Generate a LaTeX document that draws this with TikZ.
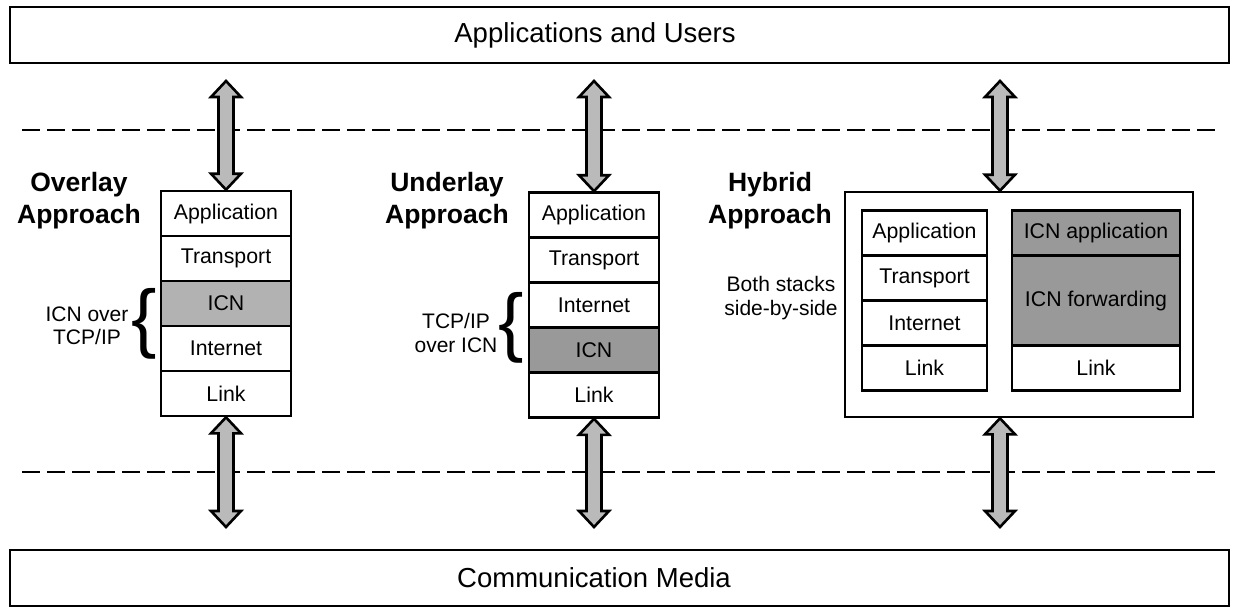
\documentclass[tikz,border=0pt]{standalone}
\usepackage{fontspec}
\setmainfont{Liberation Sans}
\usetikzlibrary{calc}
\tikzset{
  bigbox/.style={draw, line width=2pt, minimum width=1219pt, minimum height=56pt, inner sep=0pt},
  bigtext/.style={inner sep=0pt, font=\fontsize{27.5}{32}\selectfont},
  layer/.style={draw, line width=2.6pt, fill=white, minimum width=130pt, minimum height=45pt, inner sep=0pt, font=\fontsize{21.3}{24}\selectfont},
  lightgray/.style={fill=black!30},
  darkgray/.style={fill=black!40},
  title/.style={font=\fontsize{26.5}{32}\selectfont\bfseries, align=center, inner sep=0pt},
  note/.style={font=\fontsize{21}{23.5}\selectfont, align=center, inner sep=0pt},
  sep/.style={line width=1.8pt, dash pattern=on 18pt off 7pt},
  blockarrow/.style={draw, line width=2.6pt, fill=black!27, line join=miter},
  bracetext/.style={font=\fontsize{76}{76}\selectfont, inner sep=0pt}
}
\newcommand{\dblarrow}[2]{%
  \draw[blockarrow] let \p1=(#1), \p2=(#2) in
    (\x1,\y1) -- (\x1+15pt,\y1-16pt) -- (\x1+7.5pt,\y1-16pt) -- (\x1+7.5pt,\y2+16pt)
    -- (\x1+15pt,\y2+16pt) -- (\x1,\y2) -- (\x1-15pt,\y2+16pt) -- (\x1-7.5pt,\y2+16pt)
    -- (\x1-7.5pt,\y1-16pt) -- (\x1-15pt,\y1-16pt) -- cycle;}
\begin{document}
\begin{tikzpicture}[x=1pt,y=-1pt]
\useasboundingbox (0,0) rectangle (1246,615);

% top and bottom boxes
\node[bigbox] (apps) at (619.5,35.5) {};
\node[bigtext] (appstext) at (595,35.5) {Applications and Users};
\node[bigbox] (media) at (619.5,577.5) {};
\node[bigtext] (mediatext) at (594,577.5) {Communication Media};

% dashed separators
\coordinate (d1a) at (22,130);
\coordinate (d1b) at (1218,130);
\coordinate (d2a) at (22,472);
\coordinate (d2b) at (1218,472);
\draw[sep] (d1a) -- (d1b);
\draw[sep] (d2a) -- (d2b);

% Overlay stack
\node[layer] (ov1) at (226,213.5) {Application};
\node[layer] (ov2) at (226,258.5) {Transport};
\node[layer,lightgray] (ov3) at (226,303.5) {ICN};
\node[layer] (ov4) at (226,348.5) {Internet};
\node[layer] (ov5) at (226,393.5) {Link};
\node[title] (ovt) at (79,201) {Overlay\\Approach};
\node[note] (ovn) at (87,326) {ICN over\\TCP/IP};
\node[bracetext, anchor=east] (ovb) at (157,324) {\{};

% Underlay stack
\node[layer] (un1) at (594,215) {Application};
\node[layer] (un2) at (594,260) {Transport};
\node[layer] (un3) at (594,305) {Internet};
\node[layer,darkgray] (un4) at (594,350) {ICN};
\node[layer] (un5) at (594,395) {Link};
\node[title] (unt) at (447,201) {Underlay\\Approach};
\node[note] (unn) at (456,333) {TCP/IP\\over ICN};
\node[bracetext, anchor=east] (unb) at (524,328) {\{};

% Hybrid
\node[draw, line width=2.6pt, minimum width=348pt, minimum height=225pt, inner sep=0pt] (hy) at (1019,304.5) {};
\node[layer, minimum width=125pt] (hl1) at (924.5,233) {Application};
\node[layer, minimum width=125pt] (hl2) at (924.5,278) {Transport};
\node[layer, minimum width=125pt] (hl3) at (924.5,323) {Internet};
\node[layer, minimum width=125pt] (hl4) at (924.5,368) {Link};
\node[layer, darkgray, minimum width=168pt] (hr1) at (1096,233) {ICN application};
\node[layer, darkgray, minimum width=168pt, minimum height=90pt] (hr2) at (1096,300.5) {ICN forwarding};
\node[layer, minimum width=168pt] (hr3) at (1096,368) {Link};
\node[title] (hyt) at (770,201) {Hybrid\\Approach};
\node[note] (hyn) at (781,298) {Both stacks\\side-by-side};

% arrows
\coordinate (ovA) at (226,81);
\coordinate (unA) at (594,81);
\coordinate (hyA) at (1000,81);
\coordinate (ovB) at (226,527);
\coordinate (unB) at (594,527);
\coordinate (hyB) at (1000,527);
\dblarrow{ovA}{ov1.north}
\dblarrow{unA}{un1.north}
\dblarrow{hyA}{hy.north -| hyA}
\dblarrow{ov5.south}{ovB}
\dblarrow{un5.south}{unB}
\dblarrow{hy.south -| hyB}{hyB}
\end{tikzpicture}
\end{document}
